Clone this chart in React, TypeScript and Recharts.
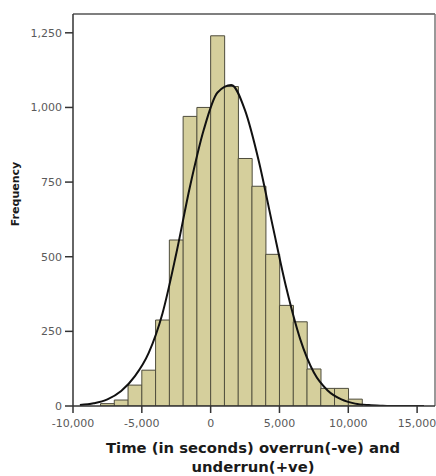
import { Bar, ComposedChart, Line, ReferenceLine, XAxis, YAxis } from "recharts"

// histogram bins (bin centre, 1000-second bins) and their counts
const binCentres = [
  -7500, -6500, -5500, -4500, -3500, -2500, -1500, -500, 500, 1500, 2500, 3500, 4500, 5500, 6500, 7500, 8500,
  9500, 10500,
]
const binCounts = [8, 20, 70, 120, 288, 556, 970, 1000, 1240, 1070, 829, 736, 508, 337, 282, 124, 59, 59, 23]

// normal curve
const curveX = [
  -9500, -8500, -7500, -6500, -5500, -4500, -3500, -2500, -1500, -500, 500, 1500, 2500, 3500, 4500, 5500, 6500,
  7500, 8500, 9500, 10500, 11500, 12500, 13500, 14500, 15500,
]
const curveY = [
  3, 9, 22, 50, 100, 178, 310, 510, 735, 925, 1050, 1075, 990, 820, 605, 395, 225, 112, 52, 22, 8, 3, 1, 0, 0, 0,
]

const xTicks = [-10000, -5000, 0, 5000, 10000, 15000]
const yTicks = [0, 250, 500, 750, 1000, 1250]

const X_MIN = -10000
const X_MAX = 16300
const Y_MAX = 1313

const bins = binCentres.map((x, i) => ({ x, count: binCounts[i] }))
const curve = curveX.map((x, i) => ({ x, fit: curveY[i] }))

const font = "'DejaVu Sans', Verdana, sans-serif"
const fmt = (v: number) => v.toLocaleString("en-US")

function XTitle({ viewBox }: { viewBox?: { x: number; y: number; width: number } }) {
  if (!viewBox) return null
  const cx = viewBox.x + viewBox.width / 2 - 1
  return (
    <text x={cx} textAnchor="middle" fontFamily={font} fontWeight="bold" fontSize={14.8} fill="#1a1a1a">
      <tspan x={cx} y={453}>Time (in seconds) overrun(-ve) and</tspan>
      <tspan x={cx} y={472}>underrun(+ve)</tspan>
    </text>
  )
}

function YTitle() {
  return (
    <text
      x={15}
      y={194}
      transform="rotate(-90 15 194)"
      textAnchor="middle"
      dominantBaseline="central"
      fontFamily={font}
      fontWeight="bold"
      fontSize={11}
      fill="#1a1a1a"
    >
      Frequency
    </text>
  )
}

export default function App() {
  return (
    <div style={{ position: "absolute", left: 0, top: 0, background: "#fff" }}>
      <ComposedChart
        width={436}
        height={476}
        data={bins}
        margin={{ top: 14, right: 1, bottom: 0, left: 0 }}
        barCategoryGap={0}
        barGap={0}
      >
        <XAxis
          type="number"
          dataKey="x"
          domain={[X_MIN, X_MAX]}
          ticks={xTicks}
          tickFormatter={fmt}
          allowDataOverflow
          height={70}
          tickSize={7}
          tickMargin={6}
          stroke="#333"
          strokeWidth={1.5}
          tick={{ fill: "#5a5a5a", fontSize: 11, fontFamily: font }}
          label={<XTitle />}
        />
        <YAxis
          type="number"
          domain={[0, Y_MAX]}
          ticks={yTicks}
          tickFormatter={fmt}
          allowDataOverflow
          width={73}
          tickSize={8}
          tickMargin={3}
          stroke="#333"
          strokeWidth={1.5}
          tick={{ fill: "#5a5a5a", fontSize: 11, fontFamily: font }}
          label={<YTitle />}
        />
        <ReferenceLine y={Y_MAX} stroke="#555" strokeWidth={1.5} />
        <ReferenceLine x={X_MAX} stroke="#777" strokeWidth={1.5} />
        <Bar dataKey="count" fill="#d5cf9c" stroke="#4e4c3c" strokeWidth={1} isAnimationActive={false} />
        <Line
          data={curve}
          dataKey="fit"
          type="monotone"
          stroke="#111"
          strokeWidth={2}
          dot={false}
          activeDot={false}
          isAnimationActive={false}
        />
      </ComposedChart>
    </div>
  )
}
